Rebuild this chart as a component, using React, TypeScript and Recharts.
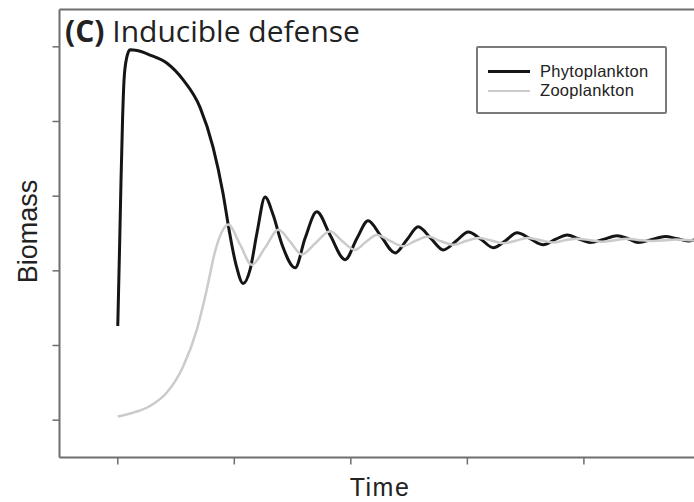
import { Legend, Line, LineChart, ReferenceLine, XAxis, YAxis } from "recharts";

// values (time units: 100 per x tick, biomass: 1 per y tick)
const phytoTime = [
  0, 1.5, 2.8, 4.1, 5.4, 7.6, 10.6, 16.6, 27.7, 42.3, 56, 70.6, 81.7, 90.3, 95.5,
  101.5, 107.6, 113.6, 119.6, 126.4, 133.3, 141, 152.2, 160.8, 170.8, 182.2, 195.1,
  205.4, 214.8, 226, 238, 248.3, 257.8, 268.9, 279.3, 290.4, 300.7, 311.9, 322.2,
  332.4, 342.7, 353.9, 365.1, 375.4, 385.7, 395.1, 405.4, 416.6, 428.6, 438, 446.6,
  458.6, 469.8, 480.1, 489.5, 499.7, 510,
];
const phytoBiomass = [
  1.26, 2.28, 3.22, 4.02, 4.56, 4.85, 4.96, 4.95, 4.89, 4.78, 4.56, 4.19, 3.66, 3.04,
  2.55, 2.08, 1.83, 2.02, 2.52, 2.99, 2.75, 2.35, 2.04, 2.44, 2.79, 2.48, 2.15, 2.44,
  2.67, 2.46, 2.24, 2.42, 2.59, 2.43, 2.28, 2.4, 2.52, 2.42, 2.31, 2.4, 2.51, 2.43,
  2.35, 2.42, 2.48, 2.43, 2.38, 2.42, 2.47, 2.43, 2.38, 2.42, 2.46, 2.43, 2.4, 2.43,
  2.46,
];
const zooTime = [
  0, 13.1, 27.7, 42.1, 56.1, 67.8, 76.4, 83.5, 89.3, 94.9, 105, 115, 126.4, 137.9,
  147.9, 157.9, 170.2, 182.2, 192.5, 203.7, 213.1, 222.3, 233.7, 244.9, 255.2, 266.4,
  276.7, 287.8, 299, 309.3, 319.6, 330.7, 341, 351.3, 362.5, 373.6, 383.9, 394.2,
  405.4, 415.7, 426.9, 437.2, 448.3, 458.6, 469.8, 479.2, 491.2, 501.5, 511.8,
];
const zooBiomass = [
  0.05, 0.1, 0.19, 0.37, 0.72, 1.21, 1.75, 2.26, 2.52, 2.62, 2.35, 2.08, 2.31, 2.55,
  2.39, 2.22, 2.38, 2.53, 2.4, 2.28, 2.39, 2.48, 2.4, 2.33, 2.4, 2.46, 2.4, 2.35, 2.4,
  2.44, 2.41, 2.37, 2.4, 2.44, 2.41, 2.38, 2.41, 2.43, 2.41, 2.39, 2.41, 2.43, 2.41,
  2.4, 2.41, 2.42, 2.41, 2.4, 2.41,
];
const timeTicks = [0, 100, 200, 300, 400, 500];
const biomassTicks = [0, 1, 2, 3, 4, 5];

const phytoData = phytoTime.map((t, i) => ({ t, v: phytoBiomass[i] }));
const zooData = zooTime.map((t, i) => ({ t, v: zooBiomass[i] }));

const AXIS = "#6e6e6e";
const noLabel = () => <g />;

function BoxLegend({ payload }: any) {
  return (
    <div
      style={{
        width: 187,
        height: 50,
        border: "2px solid #7a7a7a",
        borderRadius: 2,
        background: "#fff",
        paddingTop: 14,
        boxSizing: "content-box",
      }}
    >
      {(payload || []).map((p: any) => (
        <div
          key={p.value}
          style={{ display: "flex", alignItems: "center", height: 19 }}
        >
          <span
            style={{
              display: "inline-block",
              marginLeft: 10,
              width: 42,
              height: p.value === "Phytoplankton" ? 3 : 2,
              background: p.color,
            }}
          />
          <span
            style={{
              marginLeft: 10,
              fontFamily: "'Liberation Sans', Arial, sans-serif",
              fontSize: 16.5,
              letterSpacing: 0.3,
              color: "#222",
            }}
          >
            {p.value}
          </span>
        </div>
      ))}
    </div>
  );
}

export default function App() {
  return (
    <div
      style={{
        position: "absolute",
        left: 0,
        top: 0,
        width: 694,
        height: 502,
        overflow: "hidden",
        background: "#fff",
      }}
    >
      <LineChart
        width={782}
        height={502}
        margin={{ top: 9.5, right: 0, bottom: 0, left: 39.5 }}
      >
        <XAxis
          dataKey="t"
          type="number"
          domain={[-50, 570]}
          ticks={timeTicks}
          tick={noLabel}
          tickSize={7}
          height={44.5}
          axisLine={{ stroke: AXIS, strokeWidth: 2 }}
          tickLine={{ stroke: AXIS, strokeWidth: 1.5 }}
        />
        <YAxis
          type="number"
          domain={[-0.5, 5.5]}
          ticks={biomassTicks}
          tick={noLabel}
          tickSize={7}
          width={20}
          axisLine={{ stroke: AXIS, strokeWidth: 2 }}
          tickLine={{ stroke: AXIS, strokeWidth: 1.5 }}
        />
        <ReferenceLine y={5.5} stroke={AXIS} strokeWidth={2} />
        <Legend
          layout="vertical"
          align="center"
          verticalAlign="middle"
          wrapperStyle={{ left: 476, top: 46, width: 191 }}
          content={(props: any) => <BoxLegend {...props} />}
        />
        <Line
          data={phytoData}
          dataKey="v"
          name="Phytoplankton"
          type="monotone"
          stroke="#151515"
          strokeWidth={3}
          dot={false}
          activeDot={false}
          isAnimationActive={false}
        />
        <Line
          data={zooData}
          dataKey="v"
          name="Zooplankton"
          type="monotone"
          stroke="#cbcbcb"
          strokeWidth={2.5}
          dot={false}
          activeDot={false}
          isAnimationActive={false}
        />
      </LineChart>
      <svg
        width={694}
        height={502}
        style={{ position: "absolute", left: 0, top: 0, pointerEvents: "none" }}
      >
        <text
          x={65}
          y={42}
          fontFamily="'Open Sans', sans-serif"
          fontSize={30}
          fill="#222"
        >
          <tspan fontWeight="bold">(C)</tspan>
          <tspan> Inducible defense</tspan>
        </text>
        <text
          transform="translate(37 231.5) rotate(-90)"
          textAnchor="middle"
          fontFamily="'Liberation Sans', Arial, sans-serif"
          fontSize={27}
          fill="#222"
        >
          Biomass
        </text>
        <text
          x={380}
          y={496}
          textAnchor="middle"
          fontFamily="'Liberation Sans', Arial, sans-serif"
          fontSize={25}
          letterSpacing={1.5}
          fill="#222"
        >
          Time
        </text>
      </svg>
    </div>
  );
}
